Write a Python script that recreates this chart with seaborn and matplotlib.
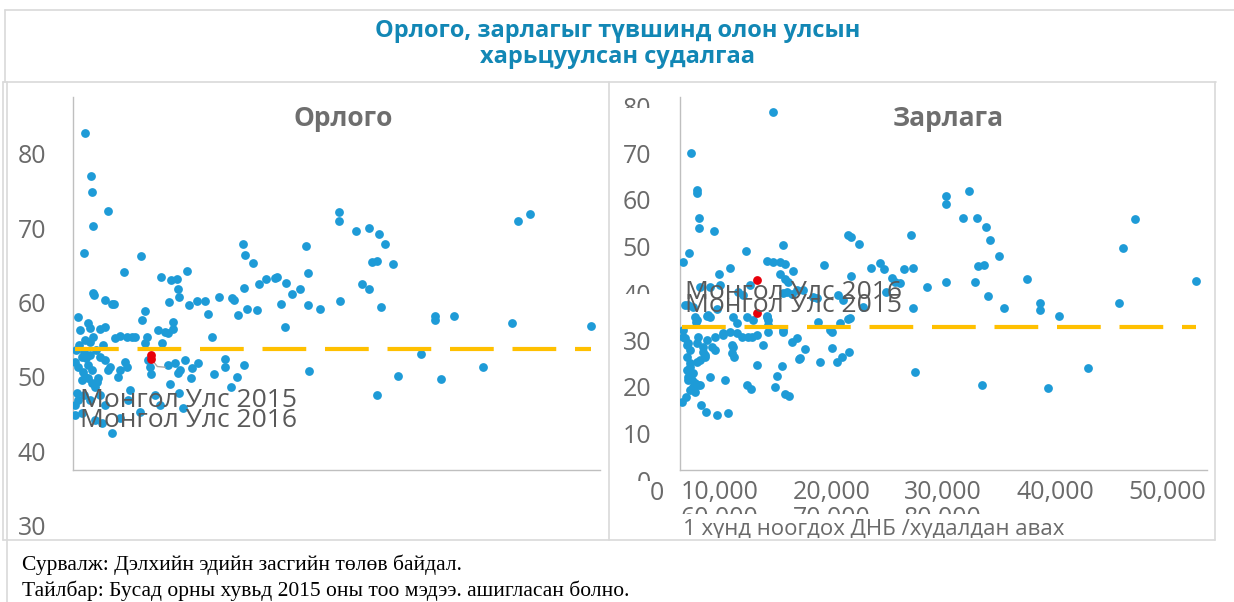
import numpy as np
import pandas as pd
import matplotlib
matplotlib.use("Agg")
import matplotlib.pyplot as plt
import seaborn as sns
from matplotlib.lines import Line2D
from matplotlib.transforms import Bbox, blended_transform_factory

# ---------------- data ----------------
title_lines = ["Орлого, зарлагыг түвшинд олон улсын", "харьцуулсан судалгаа"]
panel_titles = ["Орлого", "Зарлага"]

income_gdp = [1800, 2700, 2900, 3000, 5300, 1700, 10300, 800, 3000, 3200, 4900, 5900, 6200, 7800,
              1100, 2300, 2600, 3000, 1800, 4100, 4900, 6400, 7100, 8200, 9000, 9400, 10500, 10900,
              13400, 14900, 15800, 17300, 16000, 16100, 14600, 17600, 18800, 20100, 20500, 22200,
              21100, 12900, 14000, 15200, 15200, 24200, 24500, 25100, 26000, 25800, 26100, 27400,
              26400, 28300, 29300, 30600, 31000, 32400, 31500, 32200, 33300, 34400, 35300, 35600,
              35700, 37500, 40400, 40400, 43000, 45000, 46500, 47300, 45400, 46200, 48600, 43900,
              45000, 40600, 46800, 35900, 49400, 46200, 52900, 54900, 55000, 57800, 55900, 62200,
              66700, 67500, 69300, 78600, 14400, 28000, 2600, 4600, 11200, 10900, 13500, 300, 1400,
              800, 1500, 1800, 1400, 2300, 2900, 3600, 3800, 3300, 4900, 5600, 5300, 7900, 8200,
              7100, 6800, 11400, 11700, 11900, 14400, 15500, 16300, 16000, 17000, 18100, 17900,
              19000, 21400, 23100, 23100, 24900, 26000, 24000, 14700, 16100, 16700, 300, 1400, 800,
              300, 3300, 4400, 5900, 600, 7100, 10200, 500, 1700, 900, 2000, 2600, 3500, 4100, 2300,
              2900, 1700, 2600, 4100, 4900, 8700, 8400, 12500, 13200]
income_val = [83.1, 77.4, 75.2, 70.7, 72.7, 67.0, 66.6, 58.5, 61.7, 61.4, 60.7, 60.2, 60.2, 64.5,
              56.7, 57.6, 57.0, 55.8, 55.4, 56.8, 57.1, 55.6, 55.9, 55.8, 55.8, 55.8, 58.1, 59.3,
              63.8, 63.4, 63.6, 64.6, 62.2, 61.1, 60.5, 60.1, 60.6, 60.6, 58.9, 61.1,
              55.8, 56.7, 56.4, 56.8, 57.8, 61.0, 60.7, 58.7, 62.3, 68.3, 66.8, 65.7,
              59.5, 62.9, 63.6, 63.7, 63.8, 63.0, 60.2, 57.1, 61.5, 62.2, 68.0, 64.4,
              60.1, 59.5, 72.5, 71.3, 70.0, 70.4, 69.6, 68.3, 65.8, 66.0, 65.6, 62.9,
              62.2, 60.6, 59.8, 51.2, 50.5, 48.0, 53.5, 58.6, 58.1, 58.6, 50.1, 51.7,
              57.6, 71.3, 72.3, 57.2, 56.3, 59.4, 55.1, 54.7, 55.8, 55.0, 55.0, 52.4, 53.1,
              51.7, 51.1, 50.4, 50.0, 50.3, 49.6, 49.7, 50.3, 49.1, 52.7, 51.7, 51.3, 52.4, 51.7,
              51.3, 50.4, 52.7, 51.7, 50.8, 52.0, 52.3, 51.3, 50.9, 52.7, 51.6, 50.3,
              52.3, 50.8, 52.8, 51.7, 50.4, 52.0, 49.1, 49.5, 48.3, 46.2, 45.3, 45.6, 47.3,
              46.6, 44.6, 44.2, 42.9, 48.3, 44.9, 45.7, 54.0, 53.8, 54.7, 53.0, 53.4, 54.0, 53.1, 52.0,
              51.3, 48.0, 47.3, 48.0, 46.6, 48.7, 47.3, 48.0, 46.6]

expense_gdp = [14100, 1700, 2600, 2600, 2900, 2900, 5200, 25500, 26000, 500, 1400, 10000, 5900, 7600,
               13200, 14100, 15200, 16000, 15700, 15200, 16000, 17200, 27200, 21900, 26000, 29000,
               30400, 30900, 32200, 32700, 31200, 34000, 35300, 35000, 35400, 35700, 800, 2300, 2400,
               4100, 4600, 5600, 8100, 8700, 10200, 11100, 13200, 13400, 6100, 3000, 4600, 8800, 9600,
               17800, 18700, 20200, 20800, 21000, 22800, 23000, 24300, 25500, 27800, 15700, 16300,
               17000, 500, 500, 1100, 1500, 1100, 1500, 2000, 1200, 2300, 3000, 2700, 4100, 5300,
               6500, 7600, 8700, 9400, 4900, 5300, 3500, 3800, 8100, 7900, 10900, 11700, 12600,
               13400, 15700, 17000, 17800, 19000, 18100, 21300, 23100, 23900, 24600, 25700, 11700,
               15500, 14700, 14400, 10200, 4600, 6800, 300, 900, 3200, 4000, 5600, 7300, 10800,
               16000, 16600, 1100, 1200, 1800, 2000, 2700, 1500, 2300, 1500, 2600, 1200, 800, 2600,
               3500, 3800, 3000, 6500, 7900, 8200, 10300, 13200, 13400, 15700, 18200, 25800, 24000,
               24800, 10600, 16400, 2000, 2600, 1200, 4300, 37500, 40400, 40400, 43800, 42900,
               45100, 46500, 47100, 48500, 45300, 46200, 40400, 44800, 46700, 49200, 52600, 54700,
               54600, 57600, 66600, 67300, 69000, 78400, 45900, 55800, 62000, 33400]
expense_val = [79.5, 70.7, 62.8, 62.1, 56.8, 54.6, 54.0, 53.1, 52.7, 47.3, 49.3, 49.7, 44.8, 46.1,
               47.6, 47.3, 47.3, 46.9, 51.0, 44.8, 43.7, 45.4, 51.2, 46.7, 44.3, 46.1,
               47.1, 45.8, 43.9, 43.1, 40.9, 45.8, 46.1, 53.1, 37.5, 23.8, 38.1, 35.6, 34.5,
               35.8, 35.6, 37.3, 35.6, 34.3, 35.6, 34.9, 35.6, 34.9, 42.4, 42.0, 42.0, 40.9, 40.3,
               41.3, 41.3, 39.8, 39.6, 34.5, 32.8, 32.4, 34.3, 35.1, 37.7, 40.7, 40.9,
               40.5, 32.8, 31.3, 29.6, 28.5, 27.0, 24.9, 23.6, 22.1, 21.4, 21.0, 31.3, 30.6, 31.3,
               31.7, 32.4, 32.1, 31.3, 29.1, 28.5, 28.1, 27.0, 29.1, 27.9, 31.3, 31.7, 29.6,
               32.4, 32.4, 30.2, 31.1, 28.7, 26.6, 25.9, 28.9, 25.9, 27.0, 28.1, 25.3,
               25.1, 22.9, 20.6, 21.0, 22.7, 22.1, 17.4, 18.4, 16.7, 15.2, 14.6, 15.0, 20.2,
               19.1, 18.7, 24.2, 22.7, 22.1, 20.6, 21.0, 19.9, 19.5, 25.7, 25.9, 30.0, 31.1, 30.0,
               29.1, 27.4, 26.4, 32.1, 29.6, 27.0, 31.3, 35.8, 33.9, 32.8, 26.8, 35.4, 40.3,
               39.2, 42.4, 43.1, 37.7, 34.9, 38.1, 36.0, 42.0, 61.5, 59.8, 62.5, 56.8,
               56.8, 54.8, 52.1, 48.6, 46.5, 46.7, 43.1, 43.1, 40.1, 37.5, 43.7, 38.6,
               37.1, 35.8, 38.6, 50.3, 56.5, 43.3, 21.0, 20.4, 24.6, 42.8]

# Mongolia (2015, 2016)
mongolia_labels = ["Монгол Улс 2015", "Монгол Улс 2016"]
mongolia_income_gdp = [11900, 11900]
mongolia_income = [53.4, 52.8]
mongolia_expense_gdp = [11700, 11700]
mongolia_expense = [36.4, 43.5]

income_avg = 54.2
expense_avg = 33.4

income_yticks = [30, 40, 50, 60, 70, 80]
expense_yticks = [0, 10, 20, 30, 40, 50, 60, 70, 80]
x_ticklabels_row1 = ["0", "10,000", "20,000", "30,000", "40,000", "50,000"]
x_ticklabels_row2 = ["60,000", "70,000", "80,000"]
x_axis_title = "1 хүнд ноогдох ДНБ /худалдан авах"
footer_lines = ["Сурвалж: Дэлхийн эдийн засгийн төлөв байдал.",
                "Тайлбар: Бусад орны хувьд 2015 оны тоо мэдээ. ашигласан болно."]

# ---------------- style ----------------
sns.set_theme(style="white")
plt.rcParams["font.family"] = ["Open Sans", "DejaVu Sans"]

BLUE = "#1E9BD7"
RED = "#E8000B"
GOLD = "#FFC000"
GREY_TXT = "#6A6A6A"
BORDER = "#D9D9D9"
TITLE_BLUE = "#1287B5"

W, H = 1234, 602
fig = plt.figure(figsize=(W / 100, H / 100), dpi=100)
fig.patch.set_facecolor("white")

def fx(px):
    return px / W

def fy(py):
    return 1 - py / H

def clip_px(t, x0, y0, x1, y1):
    # pixel box (y downward) -> display bbox
    t.set_clip_box(Bbox.from_extents(x0, H - y1, x1, H - y0))
    t.set_clip_on(True)

axL = fig.add_axes([fx(73), fy(470), fx(600) - fx(73), fy(97) - fy(470)])
axR = fig.add_axes([fx(680), fy(470), fx(1207) - fx(680), fy(97) - fy(470)])

panels = [
    (axL, income_gdp, income_val, mongolia_income_gdp, mongolia_income, income_avg, (37.9, 88.0)),
    (axR, expense_gdp, expense_val, mongolia_expense_gdp, mongolia_expense, expense_avg, (2.8, 82.7)),
]

for ax, gx, gy, mx, my, avg, ylim in panels:
    df = pd.DataFrame({"gdp": gx, "val": gy})
    sns.scatterplot(data=df, x="gdp", y="val", ax=ax, color=BLUE, s=40,
                    linewidth=0, zorder=3, legend=False)
    ax.plot([min(gx), max(gx)], [avg, avg], color=GOLD, lw=3.0,
            linestyle=(0, (10.5, 4.5)), solid_capstyle="butt", zorder=4)
    sns.scatterplot(x=mx, y=my, ax=ax, color=RED, s=40, linewidth=0, zorder=5, legend=False)
    ax.set_xlim(0, 80000)
    ax.set_ylim(*ylim)
    ax.set_xticks([])
    ax.set_yticks([])
    ax.set_xlabel("")
    ax.set_ylabel("")
    for s in ["top", "right"]:
        ax.spines[s].set_visible(False)
    for s in ["left", "bottom"]:
        ax.spines[s].set_color("#BFBFBF")
        ax.spines[s].set_linewidth(1.0)
    ax.set_facecolor("none")

# leader line for Mongolia label (income)
axL.plot([mongolia_income_gdp[1], mongolia_income_gdp[1] + 900, mongolia_income_gdp[1] + 2100],
         [mongolia_income[1], mongolia_income[1] - 1.0, mongolia_income[1] - 1.1],
         color="#A6A6A6", lw=1.0, zorder=4)

# Mongolia labels
LBL = dict(fontsize=19, color="#595959", va="center", ha="left", zorder=6)
axL.text(1100, 47.2, mongolia_labels[0], **LBL)
axL.text(1100, 44.6, mongolia_labels[1], **LBL)
axR.text(700, 40.9, mongolia_labels[1], **LBL)
axR.text(700, 38.1, mongolia_labels[0], **LBL)

# y tick labels
trL = blended_transform_factory(fig.transFigure, axL.transData)
for v in income_yticks:
    t = axL.text(fx(46), v, str(v), transform=trL, ha="right", va="center",
                 fontsize=18, color=GREY_TXT, clip_on=False)
    clip_px(t, 0, 0, 600, 539)

trR = blended_transform_factory(fig.transFigure, axR.transData)
half_cut = {80, 40, 0}
for v in expense_yticks:
    t = axR.text(fx(651), v, str(v), transform=trR, ha="right", va="center",
                 fontsize=18, color=GREY_TXT, clip_on=False)
    if v in half_cut:
        ydisp = axR.transData.transform((0, v))[1]
        t.set_clip_box(Bbox.from_extents(600, ydisp + 2, 680, ydisp + 40))
        t.set_clip_on(True)

# x tick labels (right panel, wrapped in two rows)
row1_x = [657, 720, 832, 943, 1055, 1167]
for lab, px in zip(x_ticklabels_row1, row1_x):
    fig.text(fx(px), fy(493), lab, ha="center", va="center", fontsize=18, color=GREY_TXT)
row2_x = [720, 832, 943]
for lab, px in zip(x_ticklabels_row2, row2_x):
    t = fig.text(fx(px), fy(518), lab, ha="center", va="center", fontsize=18, color=GREY_TXT)
    clip_px(t, 610, 480, 1215, 514)

t = fig.text(fx(683), fy(529), x_axis_title, ha="left", va="center", fontsize=16, color=GREY_TXT)
clip_px(t, 610, 512, 1215, 538)

# panel titles
fig.text(fx(343), fy(118), panel_titles[0], ha="center", va="center", fontsize=19,
         fontweight="bold", color="#6E6E6E")
fig.text(fx(948), fy(118), panel_titles[1], ha="center", va="center", fontsize=19,
         fontweight="bold", color="#6E6E6E")

# main title
fig.text(fx(618), fy(31), title_lines[0], ha="center", va="center", fontsize=17,
         fontweight="bold", color=TITLE_BLUE)
fig.text(fx(618), fy(57), title_lines[1], ha="center", va="center", fontsize=17,
         fontweight="bold", color=TITLE_BLUE)

# footer
fig.text(fx(22), fy(565), footer_lines[0], ha="left", va="center", fontsize=15.5,
         family="Liberation Serif", color="black")
fig.text(fx(22), fy(591), footer_lines[1], ha="left", va="center", fontsize=15.5,
         family="Liberation Serif", color="black")

# frames
def hline(y, x0, x1):
    fig.add_artist(Line2D([fx(x0), fx(x1)], [fy(y), fy(y)], color=BORDER, lw=1.2))

def vline(x, y0, y1):
    fig.add_artist(Line2D([fx(x), fx(x)], [fy(y0), fy(y1)], color=BORDER, lw=1.2))

hline(10, 5, 1234)
vline(5, 10, 82)
hline(82, 3, 1216)
vline(3, 82, 540)
vline(7, 82, 602)
vline(609, 82, 540)
vline(1215, 82, 540)
hline(540, 3, 1215)

fig.savefig("out.png", dpi=100, facecolor="white")
